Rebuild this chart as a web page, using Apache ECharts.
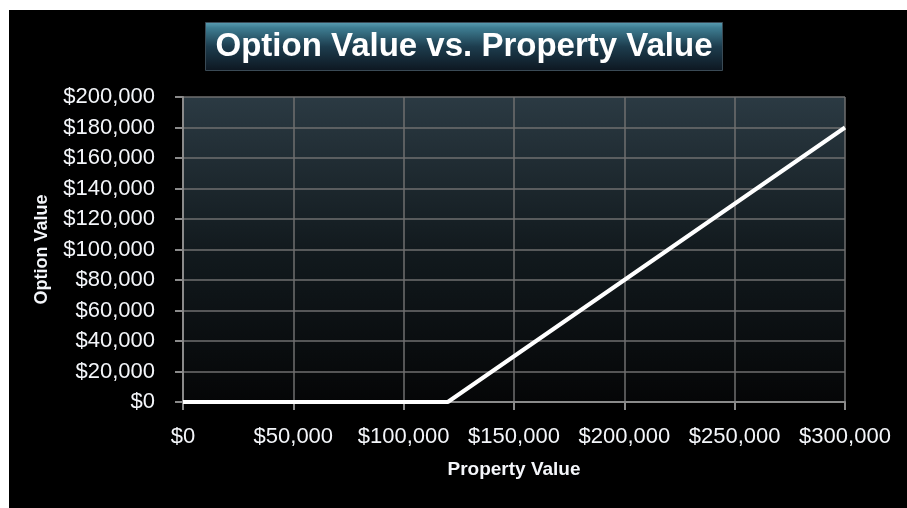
<!DOCTYPE html>
<html>
<head>
<meta charset="utf-8">
<script src="https://cdn.jsdelivr.net/npm/echarts@6/dist/echarts.min.js"></script>
<style>
  html, body { margin: 0; padding: 0; background: #fff; }
  #wrap { position: absolute; left: 0; top: 0; width: 907px; height: 508px; background: #fff; }
  #chart { position: absolute; left: 9px; top: 10px; width: 898px; height: 498px; background: #000; }
</style>
</head>
<body>
<div id="wrap"><div id="chart"></div></div>
<script>
// values
var propertyValues = [0, 50000, 100000, 120000, 150000, 200000, 250000, 300000];
var optionValues = [0, 0, 0, 0, 30000, 80000, 130000, 180000];

var titleText = 'Option Value vs. Property Value';
var xName = 'Property Value';
var yName = 'Option Value';

function money(v) {
    return '$' + v.toString().replace(/\B(?=(\d{3})+(?!\d))/g, ',');
}

var points = propertyValues.map(function (p, i) {
    return [p, optionValues[i]];
});

var myChart = echarts.init(document.getElementById('chart'));

var tickFont = {
    color: '#f4f6fa',
    fontFamily: 'Liberation Sans, Arial',
    fontSize: 22
};

var option = {
    backgroundColor: '#000',
    animation: false,
    graphic: [
        {
            type: 'rect',
            left: 196,
            top: 12,
            shape: { width: 517, height: 48 },
            style: {
                fill: new echarts.graphic.LinearGradient(0, 0, 0, 1, [
                    { offset: 0, color: '#5b9fb4' },
                    { offset: 0.12, color: '#3e7d92' },
                    { offset: 0.5, color: '#1d3d4e' },
                    { offset: 1, color: '#0d1620' }
                ]),
                stroke: '#3a4a55',
                lineWidth: 1
            }
        },
        {
            type: 'text',
            x: 455,
            y: 37,
            z: 10,
            style: {
                text: titleText,
                fill: '#fff',
                align: 'center',
                verticalAlign: 'middle',
                font: 'bold 33px "Liberation Sans", Arial'
            }
        }
    ],
    grid: {
        left: 174,
        right: 62,
        top: 87,
        bottom: 106,
        show: true,
        borderWidth: 0,
        backgroundColor: new echarts.graphic.LinearGradient(0, 0, 0, 1, [
            { offset: 0, color: '#2b3a43' },
            { offset: 0.5, color: '#121a1e' },
            { offset: 1, color: '#050607' }
        ])
    },
    xAxis: {
        type: 'value',
        min: 0,
        max: 300000,
        interval: 50000,
        name: xName,
        nameLocation: 'middle',
        nameGap: 58,
        nameTextStyle: {
            color: '#f4f6fa',
            fontFamily: 'Liberation Sans Narrow, Arial Narrow, Arial',
            fontWeight: 'bold',
            fontSize: 19
        },
        axisLine: { show: true, lineStyle: { color: '#8a8a8a', width: 2 } },
        axisTick: { show: true, length: 8, lineStyle: { color: '#8a8a8a', width: 2 } },
        axisLabel: Object.assign({ margin: 24, formatter: money }, tickFont),
        splitLine: { show: true, lineStyle: { color: '#6f6f6f', width: 1.5 } }
    },
    yAxis: {
        type: 'value',
        min: 0,
        max: 200000,
        interval: 20000,
        name: yName,
        nameLocation: 'middle',
        nameGap: 132,
        nameRotate: 90,
        nameTextStyle: {
            color: '#f4f6fa',
            fontFamily: 'Liberation Sans Narrow, Arial Narrow, Arial',
            fontWeight: 'bold',
            fontSize: 18
        },
        axisLine: { show: true, lineStyle: { color: '#8a8a8a', width: 2 } },
        axisTick: { show: true, length: 8, lineStyle: { color: '#8a8a8a', width: 2 } },
        axisLabel: Object.assign({ margin: 28, formatter: money }, tickFont),
        splitLine: { show: true, lineStyle: { color: '#6f6f6f', width: 1.5 } }
    },
    series: [{
        type: 'line',
        data: points,
        showSymbol: false,
        lineStyle: { color: '#ffffff', width: 4 },
        z: 5
    }]
};

myChart.setOption(option);
</script>
</body>
</html>
